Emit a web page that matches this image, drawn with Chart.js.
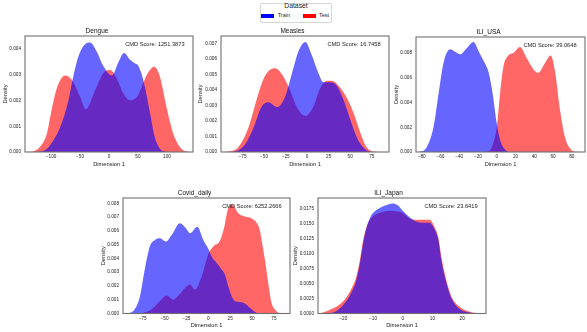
<!DOCTYPE html>
<html>
<head>
<meta charset="utf-8">
<script src="https://cdn.jsdelivr.net/npm/chart.js@4.4.0/dist/chart.umd.min.js"></script>
<style>
  html, body { margin: 0; padding: 0; background: #fff; width: 587px; height: 332px; overflow: hidden; position: relative; font-family: "Liberation Sans", Arial, sans-serif; }
  canvas { position: absolute; }
  .lg { position: absolute; white-space: nowrap; color: #222; line-height: 1; }
  .patch { position: absolute; }
</style>
</head>
<body>
<div id="legend"></div>
<canvas id="c0"></canvas>
<canvas id="c1"></canvas>
<canvas id="c2"></canvas>
<canvas id="c3"></canvas>
<canvas id="c4"></canvas>
<script>
// series
const seriesNames = ['Train', 'Test'];
const seriesSolid = ['#0000ff', '#ff0000'];
const seriesFill = ['rgba(0,0,255,0.6)', 'rgba(255,0,0,0.6)'];
const legendTitle = 'Dataset';

// Dengue
const dengueTrainX = [-125, -110, -96, -82, -70, -63, -53, -41, -33, -21, -10, 5, 16, 26, 36, 45, 50, 56, 62, 71, 79, 88, 100];
const dengueTrainY = [0, 0.00008, 0.00045, 0.0011, 0.002, 0.0028, 0.0037, 0.0042, 0.00426, 0.0039, 0.00335, 0.00297, 0.00348, 0.00385, 0.0036, 0.00344, 0.00337, 0.00305, 0.00253, 0.0015, 0.00058, 0.00013, 0];
const dengueTestX = [-140, -130, -119, -107, -99, -90, -76, -64, -50, -40, -24, -10, 2, 13, 25, 36, 50, 65, 78, 88, 99, 111, 125, 140];
const dengueTestY = [0, 0.00003, 0.0002, 0.00073, 0.00164, 0.00248, 0.00297, 0.0028, 0.00216, 0.00166, 0.0024, 0.00306, 0.00319, 0.00288, 0.00227, 0.00201, 0.0022, 0.00298, 0.00331, 0.00292, 0.00177, 0.00071, 0.00013, 0];
const dengueXTicks = [-100, -50, 0, 50, 100];
const dengueYTicks = [0, 0.001, 0.002, 0.003, 0.004];

// Measles
const measlesTrainX = [-92, -84, -72, -62, -53, -45, -35, -26, -18, -10, -2, 5, 13, 19, 27, 34, 42, 50, 58, 65, 73, 85];
const measlesTrainY = [0, 0.00003, 0.0005, 0.0016, 0.0029, 0.0032, 0.0029, 0.0035, 0.005, 0.0065, 0.0071, 0.0063, 0.0051, 0.0045, 0.0045, 0.0043, 0.0034, 0.0021, 0.0009, 0.0003, 0.00002, 0];
const measlesTestX = [-98, -91, -80, -68, -58, -49, -37, -28, -20, -12, -2, 7, 15, 23, 29, 36, 46, 54, 62, 69, 79, 92];
const measlesTestY = [0, 0.00003, 0.0003, 0.0016, 0.0035, 0.0049, 0.0054, 0.0049, 0.004, 0.0029, 0.00232, 0.0029, 0.0041, 0.0046, 0.0046, 0.0043, 0.0035, 0.0025, 0.0012, 0.0003, 0.00002, 0];
const measlesXTicks = [-75, -50, -25, 0, 25, 50, 75];
const measlesYTicks = [0, 0.001, 0.002, 0.003, 0.004, 0.005, 0.006, 0.007];

// ILI_USA
const usaTrainX = [-86, -82, -74.5, -67.4, -62, -56.7, -49.6, -44.3, -39, -31.9, -24.8, -18.4, -13.5, -8.9, -4.3, 0, 3.5, 8.9, 14.2, 20];
const usaTrainY = [0, 0.00002, 0.0004, 0.002, 0.0047, 0.0072, 0.0083, 0.0081, 0.0079, 0.0084, 0.0089, 0.008, 0.0073, 0.0065, 0.0047, 0.0023, 0.001, 0.0002, 0, 0];
const usaTestX = [-15, -10.6, -5.3, 0, 3.5, 7.1, 12.4, 17.7, 24.8, 31.9, 39, 44.3, 51.4, 57.5, 62.1, 67.4, 72.7, 78, 83.6, 94];
const usaTestY = [0, 0.00002, 0.0004, 0.002, 0.0047, 0.0069, 0.0078, 0.008, 0.0085, 0.0076, 0.0067, 0.0064, 0.0072, 0.0078, 0.0065, 0.0034, 0.0012, 0.0003, 0.00002, 0];
const usaXTicks = [-80, -60, -40, -20, 0, 20, 40, 60, 80];
const usaYTicks = [0, 0.002, 0.004, 0.006, 0.008];

// Covid_daily
const covidTrainX = [-95, -91, -84, -78, -72, -66.6, -60.8, -55, -48.6, -41.8, -32.3, -25.8, -20.9, -12.5, -5.7, 0, 5, 9.6, 15.3, 19.1, 22.8, 26.7, 30.5, 36.2, 41.9, 47.6, 53.3, 57, 62];
const covidTrainY = [0, 0.00002, 0.0003, 0.00125, 0.0034, 0.0049, 0.00534, 0.00546, 0.00522, 0.0057, 0.00655, 0.0062, 0.00583, 0.0063, 0.00534, 0.0047, 0.004, 0.00366, 0.00318, 0.00282, 0.00197, 0.00125, 0.00089, 0.00084, 0.00072, 0.00041, 0.0001, 0.00001, 0];
const covidTestX = [-80, -76, -64.6, -55.1, -47.5, -40, -34.2, -26.6, -20.9, -15.2, -7.5, 0, 5.7, 13.4, 18.3, 22.1, 27.4, 34.2, 41.9, 49.5, 55, 59, 61.5, 64.7, 68.5, 72.3, 76, 82, 90];
const covidTestY = [0, 0.00002, 0.0003, 0.0009, 0.0013, 0.001, 0.0013, 0.00185, 0.0021, 0.00173, 0.0027, 0.0043, 0.00486, 0.00529, 0.0063, 0.0075, 0.0079, 0.00727, 0.00703, 0.0069, 0.0066, 0.006, 0.0051, 0.0039, 0.0022, 0.00077, 0.0003, 0.00001, 0];
const covidXTicks = [-75, -50, -25, 0, 25, 50, 75];
const covidYTicks = [0, 0.001, 0.002, 0.003, 0.004, 0.005, 0.006, 0.007, 0.008];

// ILI_Japan
const japanTrainX = [-28, -25, -22, -19.2, -17.5, -15.8, -14.4, -13.3, -12.2, -10.7, -7.9, -5.6, -3.4, -1.7, 0, 2.3, 4.5, 6.8, 9, 10.7, 12, 13, 14.1, 15.3, 16.4, 19, 22, 25, 28];
const japanTrainY = [0, 0.00003, 0.0005, 0.0019, 0.0033, 0.0052, 0.0083, 0.0117, 0.0142, 0.0162, 0.0175, 0.018, 0.0183, 0.018, 0.0171, 0.016, 0.0153, 0.0151, 0.0151, 0.014, 0.0122, 0.0088, 0.0062, 0.004, 0.0025, 0.0008, 0.0002, 0.00002, 0];
const japanTestX = [-28, -24.8, -21.5, -19.2, -17.5, -15.8, -14.4, -13.3, -12.2, -10.7, -7.9, -4.5, 0, 2.3, 4.5, 6.8, 9, 10.1, 10.7, 11.9, 13, 14.1, 15.3, 16.4, 19.2, 22.6, 26, 28];
const japanTestY = [0, 0.00055, 0.0014, 0.0025, 0.0039, 0.0058, 0.0089, 0.0122, 0.0144, 0.0158, 0.0167, 0.0171, 0.0167, 0.0158, 0.0156, 0.0156, 0.0156, 0.015, 0.0144, 0.0128, 0.0094, 0.0067, 0.0044, 0.0028, 0.0011, 0.0003, 0.00003, 0];
const japanXTicks = [-20, -10, 0, 10, 20];
const japanYTicks = [0, 0.0025, 0.005, 0.0075, 0.01, 0.0125, 0.015, 0.0175];

Chart.defaults.font.family = '"Liberation Sans", Arial, sans-serif';

function pts(xs, ys) {
  return xs.map((x, i) => ({ x: x, y: ys[i] }));
}

function minusLabel(v) {
  return v < 0 ? '\u2212' + Math.abs(v) : String(v);
}

// frame round the plot + CMD score text in the top right corner
const framePlugin = {
  id: 'frame',
  afterDraw(chart, args, opts) {
    const ctx = chart.ctx;
    const a = chart.chartArea;
    ctx.save();
    ctx.strokeStyle = '#707070';
    ctx.lineWidth = 1.1;
    ctx.strokeRect(a.left, a.top, a.right - a.left, a.bottom - a.top);
    ctx.font = '5.7px "Liberation Sans", Arial, sans-serif';
    ctx.fillStyle = '#222';
    ctx.textAlign = 'right';
    ctx.textBaseline = 'top';
    ctx.fillText(opts.text, a.right - 0.05 * (a.right - a.left), a.top + 0.045 * (a.bottom - a.top));
    ctx.restore();
  }
};

// box = where the plot area sits on the page, dx = centre of the y title
function drawPanel(id, box, title, cmd, trainX, trainY, testX, testY, xMin, xMax, xTicks, yMax, yTicks, yDigits) {
  const cv = document.getElementById(id);
  const left = Math.floor(box.dx - 4);
  const top = box.T - 10;
  const w = Math.ceil(box.R + 2 - left);
  const h = Math.ceil(box.B + 16 - top);
  cv.width = w;
  cv.height = h;
  cv.style.left = left + 'px';
  cv.style.top = top + 'px';
  const yW = box.L - left;
  const xH = (top + h) - box.B;
  const padR = (left + w) - box.R;
  const xTitlePad = (top + h) - box.B - 12 - 3.42;
  const yTitlePad = box.dx - left - 3.42;

  new Chart(cv, {
    type: 'line',
    data: {
      datasets: [
        { label: seriesNames[0], data: pts(trainX, trainY), backgroundColor: seriesFill[0], borderColor: 'transparent', borderWidth: 0, pointRadius: 0, fill: 'origin', cubicInterpolationMode: 'monotone', order: 0 },
        { label: seriesNames[1], data: pts(testX, testY), backgroundColor: seriesFill[1], borderColor: 'transparent', borderWidth: 0, pointRadius: 0, fill: 'origin', cubicInterpolationMode: 'monotone', order: 1 }
      ]
    },
    options: {
      responsive: false,
      animation: false,
      events: [],
      layout: { padding: { left: 0, right: padR, top: 0, bottom: 0 } },
      plugins: {
        legend: { display: false },
        tooltip: { enabled: false },
        title: { display: true, text: title, color: '#111', font: { size: 6.5, weight: 'normal' }, padding: { top: 1.8, bottom: 0.4 } },
        frame: { text: cmd }
      },
      scales: {
        x: {
          type: 'linear', min: xMin, max: xMax, bounds: 'data',
          grid: { display: false, drawTicks: false },
          border: { display: false },
          afterBuildTicks: s => { s.ticks = xTicks.map(v => ({ value: v })); },
          afterFit: s => { s.height = xH; },
          ticks: { color: '#222', font: { size: 4.7 }, padding: 2, maxRotation: 0, autoSkip: false, callback: v => minusLabel(v) },
          title: { display: true, text: 'Dimension 1', color: '#222', font: { size: 5.7 }, padding: { top: 0, bottom: xTitlePad } }
        },
        y: {
          type: 'linear', min: 0, max: yMax, bounds: 'data',
          grid: { display: false, drawTicks: false },
          border: { display: false },
          afterBuildTicks: s => { s.ticks = yTicks.map(v => ({ value: v })); },
          afterFit: s => { s.width = yW; },
          ticks: { color: '#222', font: { size: 4.7 }, padding: 4, autoSkip: false, callback: v => v.toFixed(yDigits) },
          title: { display: true, text: 'Density', color: '#222', font: { size: 5.7 }, padding: { top: yTitlePad, bottom: 0 } }
        }
      }
    },
    plugins: [framePlugin]
  });
}

drawPanel('c0', { L: 25, T: 36, R: 193, B: 152, dx: 5 }, 'Dengue', 'CMD Score: 1251.3873',
  dengueTrainX, dengueTrainY, dengueTestX, dengueTestY, -145, 145, dengueXTicks, 0.00451, dengueYTicks, 3);
drawPanel('c1', { L: 221, T: 36, R: 389, B: 152, dx: 200 }, 'Measles', 'CMD Score: 16.7458',
  measlesTrainX, measlesTrainY, measlesTestX, measlesTestY, -100, 95, measlesXTicks, 0.00748, measlesYTicks, 3);
drawPanel('c2', { L: 416, T: 37, R: 585, B: 152, dx: 396 }, 'ILI_USA', 'CMD Score: 39.0648',
  usaTrainX, usaTrainY, usaTestX, usaTestY, -86, 94, usaXTicks, 0.0093, usaYTicks, 3);
drawPanel('c3', { L: 123, T: 198, R: 290, B: 313.5, dx: 103 }, 'Covid_daily', 'CMD Score: 6252.2666',
  covidTrainX, covidTrainY, covidTestX, covidTestY, -97.4, 93.3, covidXTicks, 0.00838, covidYTicks, 3);
drawPanel('c4', { L: 318, T: 198, R: 486, B: 313.5, dx: 295 }, 'ILI_Japan', 'CMD Score: 23.6419',
  japanTrainX, japanTrainY, japanTestX, japanTestY, -28.5, 28, japanXTicks, 0.0192, japanYTicks, 4);

// shared legend at the top
(function () {
  const lg = document.getElementById('legend');
  let html = '<div style="position:absolute;left:260px;top:3px;width:72px;height:20px;box-sizing:border-box;border:1px solid #d6d6d6;border-radius:2px;background:#fff"></div>';
  html += '<div class="lg" style="left:260px;width:72px;text-align:center;top:3.3px;font-size:6.8px">' + legendTitle + '</div>';
  const patchLeft = [261, 302.7];
  const textLeft = [277.7, 319];
  seriesNames.forEach((name, i) => {
    html += '<div class="patch" style="left:' + patchLeft[i] + 'px;top:14.2px;width:13px;height:4px;background:' + seriesSolid[i] + '"></div>';
    html += '<div class="lg" style="left:' + textLeft[i] + 'px;top:13.4px;font-size:5.5px">' + name + '</div>';
  });
  lg.innerHTML = html;
})();
</script>
</body>
</html>
